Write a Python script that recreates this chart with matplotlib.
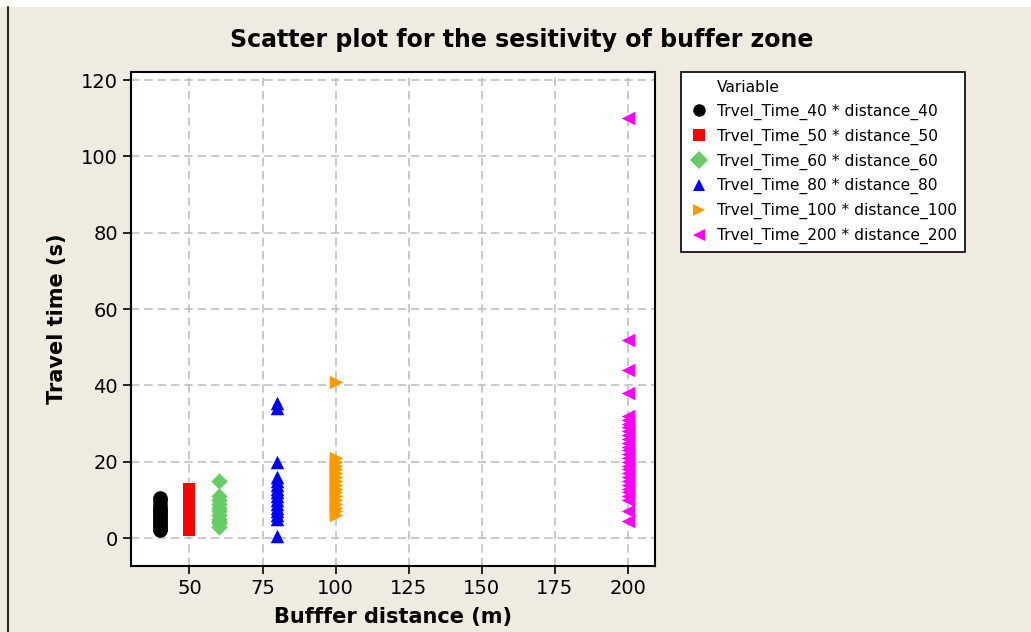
import numpy as np
import matplotlib.pyplot as plt
from matplotlib.lines import Line2D
from matplotlib.patches import Rectangle

# Travel time (s), one list per buffer distance (m)
dist = [40, 50, 60, 80, 100, 200]
labels = ["Trvel_Time_40 * distance_40",
          "Trvel_Time_50 * distance_50",
          "Trvel_Time_60 * distance_60",
          "Trvel_Time_80 * distance_80",
          "Trvel_Time_100 * distance_100",
          "Trvel_Time_200 * distance_200"]
tt_40 = [2, 2.5, 3, 3.5, 4, 4.5, 5, 5.5, 6, 6.5, 7, 7.5, 8, 9, 10, 10.5]
tt_50 = [2, 2.5, 3, 4, 5, 6, 7, 8, 9, 10, 11, 12, 13]
tt_60 = [3, 4, 4.5, 5, 6, 7, 8, 9, 10, 11, 15]
tt_80 = [0.5, 5, 6, 7, 8, 9, 10, 11, 12, 13, 14, 15, 16, 20, 34, 35.5]
tt_100 = [6, 7, 8, 9, 10, 11, 12, 13, 14, 15, 16, 17, 18, 19, 20, 21, 41]
tt_200 = [4.5, 7, 10, 11, 12, 13, 14, 15, 16, 17, 18, 19, 20, 21, 22, 23, 24,
          25, 26, 27, 28, 29, 30, 31, 32, 38, 44, 52, 110]
series = [tt_40, tt_50, tt_60, tt_80, tt_100, tt_200]

colors = ["black", "#FF0000", "#66CC66", "#0000FF", "#FF9900", "#FF00FF"]
markers = ["o", "s", "D", "^", ">", "<"]
sizes = [110, 85, 70, 95, 95, 95]

bg = "#EFEBE1"
fig = plt.figure(figsize=(10.31, 6.32), dpi=100, facecolor="white")
# beige panel with thin border line on the left, white strip on top
fig.patches.append(Rectangle((0, 0), 1, 1 - 7 / 632, transform=fig.transFigure,
                             facecolor=bg, edgecolor="none", zorder=-10))
fig.lines.append(Line2D([8 / 1031, 8 / 1031], [0, 1 - 7 / 632],
                        transform=fig.transFigure, color="black", lw=1.2))

ax = fig.add_axes([131 / 1031, 1 - 566 / 632, (655 - 131) / 1031, (566 - 72) / 632])
ax.set_facecolor("white")

for d, ys, c, m, s in zip(dist, series, colors, markers, sizes):
    ax.scatter([d] * len(ys), ys, color=c, marker=m, s=s, linewidths=0, zorder=3)

ax.set_xlim(30, 209.2)
ax.set_ylim(-7.3, 122.1)
ax.set_xticks([50, 75, 100, 125, 150, 175, 200])
ax.set_yticks([0, 20, 40, 60, 80, 100, 120])
ax.grid(True, color="#C0C0C0", linestyle=(0, (5, 3)), linewidth=1.2, zorder=0)
ax.tick_params(direction="out", length=6, width=1.2, labelsize=14, colors="black")
ax.tick_params(top=False, right=False)
for sp in ax.spines.values():
    sp.set_linewidth(1.5)

ax.set_xlabel("Bufffer distance (m)", fontsize=15, fontweight="bold", labelpad=6)
ax.set_ylabel("Travel time (s)", fontsize=15, fontweight="bold", labelpad=10)
fig.text(522 / 1031, 1 - 40 / 632, "Scatter plot for the sesitivity of buffer zone",
         ha="center", va="center", fontsize=17, fontweight="bold")

# legend with a blank first entry as the "Variable" header
handles = [Line2D([], [], linestyle="none", marker="")]
for c, m in zip(colors, markers):
    handles.append(Line2D([], [], linestyle="none", marker=m, color=c, markersize=9,
                          markeredgewidth=0))
leg = fig.legend(handles, ["Variable"] + labels, loc="upper left",
                 bbox_to_anchor=(681 / 1031, 1 - 72 / 632), fontsize=11.2,
                 frameon=True, fancybox=False, edgecolor="black", framealpha=1,
                 handlelength=1.3, handletextpad=0.5, labelspacing=0.56,
                 borderpad=0.5, borderaxespad=0)
leg.get_frame().set_linewidth(1.2)

fig.savefig("out.png", dpi=100, facecolor=fig.get_facecolor())
